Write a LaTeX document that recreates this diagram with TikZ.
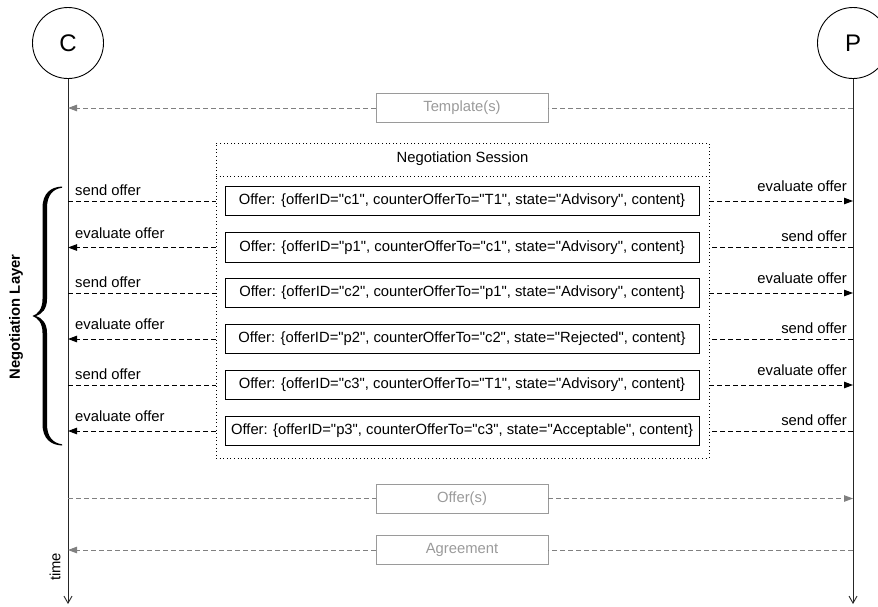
\documentclass[tikz,border=0pt]{standalone}
\usepackage{fontspec}
\setmainfont{Liberation Sans}
\usetikzlibrary{arrows.meta,calc}
\definecolor{gr}{HTML}{808080}
\definecolor{grbox}{HTML}{9A9A9A}
\newcommand\qq{\textquotedbl}
\begin{document}
\begin{tikzpicture}[x=1pt,y=-1pt,
  every node/.style={font=\fontsize{14.8}{17}\selectfont},
  life/.style={line width=0.9pt, draw=black!85, -{Straight Barb[length=7pt,width=8pt]}},
  actor/.style={circle, draw, line width=0.9pt, minimum size=71pt, inner sep=0pt, font=\fontsize{24}{28}\selectfont},
  offerbox/.style={draw, line width=0.9pt, minimum width=474pt, minimum height=29.5pt, inner sep=0pt},
  graybox/.style={draw=grbox, line width=0.9pt, text=grbox, minimum width=172pt, minimum height=29pt, inner sep=0pt},
  msg/.style={dash pattern=on 5pt off 3pt, line width=0.9pt},
  msgarr/.style={msg, -{Triangle[length=9pt,width=6.5pt]}},
  gmsg/.style={color=gr, dash pattern=on 5pt off 3pt, line width=0.9pt},
  gmsgarr/.style={gmsg, -{Triangle[length=9pt,width=6.5pt]}},
  lbl/.style={inner sep=0pt},
  sessbox/.style={draw, line width=0.9pt, dash pattern=on 1pt off 2.6pt, minimum width=493pt, minimum height=315pt, inner sep=0pt}
]
\useasboundingbox (0,0) rectangle (878,606);

% actors and lifelines
\node[actor] (C) at (68,43) {C};
\node[actor] (P) at (853,43) {P};
\coordinate (cend) at (68,604);
\coordinate (pend) at (853,604);
\draw[life] (C) -- (cend);
\draw[life] (P) -- (pend);

% template
\node[graybox] (tmpl) at (462,108) {Template(s)};
\coordinate (cT) at (68,108);
\coordinate (pT) at (853,108);
\draw[gmsg] (pT) -- (tmpl.east);
\draw[gmsgarr] (tmpl.west) -- (cT);

% session
\node[sessbox] (sess) at (462.5,300.5) {};
\coordinate (sepL) at (216,176);
\coordinate (sepR) at (709,176);
\draw[line width=0.9pt, dash pattern=on 1pt off 2.6pt] (sepL) -- (sepR);
\node (title) at (462.5,159) {Negotiation Session};

% offers
\foreach \i/\y/\txt in {
 1/201/{Offer: \{offerID=\qq c1\qq, counterOfferTo=\qq T1\qq, state=\qq Advisory\qq, content\}},
 2/247.5/{Offer: \{offerID=\qq p1\qq, counterOfferTo=\qq c1\qq, state=\qq Advisory\qq, content\}},
 3/293/{Offer: \{offerID=\qq c2\qq, counterOfferTo=\qq p1\qq, state=\qq Advisory\qq, content\}},
 4/339/{Offer: \{offerID=\qq p2\qq, counterOfferTo=\qq c2\qq, state=\qq Rejected\qq, content\}},
 5/385/{Offer: \{offerID=\qq c3\qq, counterOfferTo=\qq T1\qq, state=\qq Advisory\qq, content\}},
 6/431/{Offer: \{offerID=\qq p3\qq, counterOfferTo=\qq c3\qq, state=\qq Acceptable\qq, content\}}} {
  \node[offerbox] (o\i) at (462,\y) {\txt};
  \coordinate (cl\i) at (68,\y);
  \coordinate (pl\i) at (853,\y);
  \coordinate (sl\i) at (216,\y);
  \coordinate (sr\i) at (709,\y);
}
\foreach \i in {1,3,5} {
  \draw[msg] (cl\i) -- (sl\i);
  \draw[msgarr] (sr\i) -- (pl\i);
  \node[lbl, anchor=base west] (ls\i) at ($(cl\i)+(7,-6)$) {send offer};
  \node[lbl, anchor=base east] (re\i) at ($(pl\i)+(-6,-9.5)$) {evaluate offer};
}
\foreach \i in {2,4,6} {
  \draw[msgarr] (sl\i) -- (cl\i);
  \draw[msg] (pl\i) -- (sr\i);
  \node[lbl, anchor=base west] (le\i) at ($(cl\i)+(7,-9.5)$) {evaluate offer};
  \node[lbl, anchor=base east] (rs\i) at ($(pl\i)+(-6,-6)$) {send offer};
}

% brace and layer label
\fill (62,186.5) .. controls (51,187) and (42.5,193) .. (42.5,208)
  -- (42.5,299) .. controls (42.5,309) and (38,314) .. (32.5,316)
  .. controls (38,318) and (42.5,323) .. (42.5,333)
  -- (42.5,424) .. controls (42.5,439) and (51,445) .. (62,445.5)
  -- (62,444.3) .. controls (53,443) and (47,437) .. (47,424)
  -- (47,333) .. controls (47,323) and (42,318) .. (36,316)
  .. controls (42,314) and (47,309) .. (47,299)
  -- (47,208) .. controls (47,195) and (53,189) .. (62,187.7) -- cycle;
\node[rotate=90, font=\fontsize{14.8}{17}\selectfont\bfseries] (layer) at (16,317) {Negotiation Layer};

% offers and agreement
\node[graybox] (offs) at (462,498.5) {Offer(s)};
\coordinate (cO) at (68,498.5);
\coordinate (pO) at (853,498.5);
\draw[gmsg] (cO) -- (offs.west);
\draw[gmsgarr] (offs.east) -- (pO);

\node[graybox] (agr) at (462,550) {Agreement};
\coordinate (cA) at (68,550);
\coordinate (pA) at (853,550);
\draw[gmsg] (pA) -- (agr.east);
\draw[gmsgarr] (agr.west) -- (cA);

\node[rotate=90] (time) at (55,567) {time};
\end{tikzpicture}
\end{document}
